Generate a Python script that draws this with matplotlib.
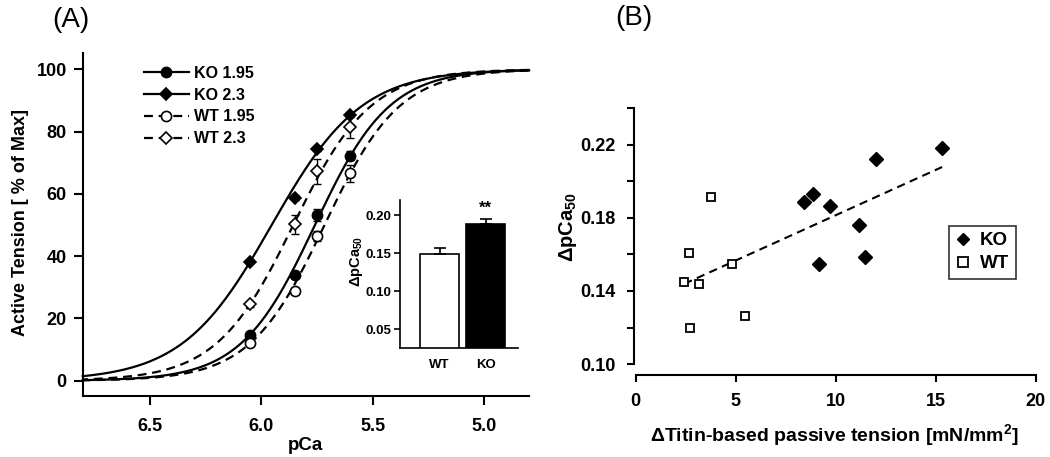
import numpy as np
import matplotlib
matplotlib.use("Agg")
import matplotlib.pyplot as plt
from matplotlib.lines import Line2D

plt.rcParams['font.family'] = ['Liberation Sans', 'DejaVu Sans']
plt.rcParams['font.weight'] = 'bold'
plt.rcParams['mathtext.fontset'] = 'custom'
plt.rcParams['mathtext.rm'] = 'Liberation Sans:bold'
plt.rcParams['mathtext.it'] = 'Liberation Sans:bold'
plt.rcParams['mathtext.bf'] = 'Liberation Sans:bold'

# ---------------- Panel A data ----------------
pca_points = [6.05, 5.85, 5.75, 5.60]
ko_195 = [14.8, 33.9, 53.2, 72.2]
ko_23 = [38.2, 58.8, 74.4, 85.3]
wt_195 = [12.0, 28.9, 46.5, 66.6]
wt_23 = [24.5, 50.2, 67.3, 81.4]
ko_195_err = [0.8, 1.0, 2.0, 1.5]
ko_23_err = [0.5, 0.8, 0.8, 0.8]
wt_195_err = [0.5, 1.0, 1.6, 2.8]
wt_23_err = [0.8, 3.0, 4.0, 3.5]
# Hill-fit parameters of the drawn curves (pCa50, Hill coefficient)
pca50 = {'KO 1.95': 5.759, 'KO 2.3': 5.953, 'WT 1.95': 5.716, 'WT 2.3': 5.856}
hill_n = {'KO 1.95': 2.61, 'KO 2.3': 2.16, 'WT 1.95': 2.59, 'WT 2.3': 2.51}
series_labels = ['KO 1.95', 'KO 2.3', 'WT 1.95', 'WT 2.3']
x_ticks_a = [6.5, 6.0, 5.5, 5.0]
y_ticks_a = [0, 20, 40, 60, 80, 100]

# inset
inset_groups = ['WT', 'KO']
inset_values = [0.149, 0.188]
inset_err = [0.008, 0.007]
inset_ticks = [0.05, 0.10, 0.15, 0.20]

# ---------------- Panel B data ----------------
ko_x = [8.43, 8.85, 9.72, 9.15, 11.18, 11.45, 12.02, 15.32]
ko_y = [0.1885, 0.193, 0.1866, 0.1547, 0.1759, 0.1585, 0.2123, 0.218]
wt_x = [3.77, 2.67, 4.83, 2.43, 3.17, 5.48, 2.70]
wt_y = [0.1917, 0.1606, 0.1547, 0.145, 0.1439, 0.1261, 0.1199]
x_ticks_b = [0, 5, 10, 15, 20]
y_major_b = [0.10, 0.14, 0.18, 0.22]
y_minor_b = [0.12, 0.16, 0.20, 0.24]

W, H = 1050, 457
fig = plt.figure(figsize=(W / 100, H / 100), dpi=100)

def fx(px):
    return px / W

def fy(py):
    return 1 - py / H

DASH = (0, (4, 2.6))

# ================= Panel A =================
axA = fig.add_axes([fx(82.7), fy(396), fx(529 - 82.7), (396 - 52.7) / H])
axA.set_xlim(6.8, 4.8)
axA.set_ylim(-4.9, 105.3)

pgrid = np.linspace(4.8, 6.8, 400)
styles = {
    'KO 1.95': dict(ls='-', marker='o', mfc='black', ms=7.3),
    'KO 2.3': dict(ls='-', marker='D', mfc='black', ms=6.2),
    'WT 1.95': dict(ls=DASH, marker='o', mfc='white', ms=7.3),
    'WT 2.3': dict(ls=DASH, marker='D', mfc='white', ms=6.2),
}
vals = {'KO 1.95': ko_195, 'KO 2.3': ko_23, 'WT 1.95': wt_195, 'WT 2.3': wt_23}
errs = {'KO 1.95': ko_195_err, 'KO 2.3': ko_23_err, 'WT 1.95': wt_195_err, 'WT 2.3': wt_23_err}

handles = []
for lab in series_labels:
    st = styles[lab]
    curve = 100.0 / (1.0 + 10 ** (hill_n[lab] * (pgrid - pca50[lab])))
    axA.plot(pgrid, curve, color='black', lw=1.6, ls=st['ls'], zorder=2, clip_on=False)
    axA.errorbar(pca_points, vals[lab], yerr=errs[lab], fmt='none', ecolor='black',
                 elinewidth=1.0, capsize=3, capthick=1.0, zorder=3)
    axA.plot(pca_points, vals[lab], ls='none', marker=st['marker'], ms=st['ms'],
             mfc=st['mfc'], mec='black', mew=1.2, zorder=4)
    handles.append(Line2D([], [], color='black', lw=1.6, ls=st['ls'], marker=st['marker'],
                          ms=st['ms'], mfc=st['mfc'], mec='black', mew=1.2))

axA.set_xticks(x_ticks_a)
axA.set_xticklabels([f"{v:.1f}" for v in x_ticks_a])
axA.set_yticks(y_ticks_a)
for s in ['top', 'right']:
    axA.spines[s].set_visible(False)
for s in ['left', 'bottom']:
    axA.spines[s].set_linewidth(1.5)
axA.tick_params(axis='both', direction='out', length=6.5, width=1.5, labelsize=13)
axA.tick_params(axis='x', pad=9)
axA.tick_params(axis='y', pad=5)

fig.text(fx(20.3), fy(223), 'Active Tension [ % of Max]', rotation=90, ha='center',
         va='center', fontsize=13, fontweight='bold')
fig.text(fx(305), fy(445), 'pCa', ha='center', va='center', fontsize=13.5, fontweight='bold')
fig.text(fx(70.8), fy(20), '(A)', ha='center', va='center', fontsize=20, fontweight='normal')

axA.legend(handles, series_labels, loc='upper left', bbox_to_anchor=(fx(144), fy(66)),
           bbox_transform=fig.transFigure, frameon=False, borderpad=0, borderaxespad=0,
           handlelength=2.8, handletextpad=0.3, labelspacing=0.42,
           prop={'family': 'Liberation Sans', 'weight': 'bold', 'size': 11.5})

# ---- inset ----
axI = fig.add_axes([fx(400), fy(347.7), fx(517.7 - 400), (347.7 - 200) / H])
xpos = np.arange(len(inset_groups))
axI.bar(xpos, inset_values, width=0.84, color=['white', 'black'], edgecolor='black',
        linewidth=1.2, zorder=2)
axI.errorbar(xpos, inset_values, yerr=[[0, 0], inset_err], fmt='none', ecolor='black',
             elinewidth=1.2, capsize=4, capthick=1.2, zorder=3)
axI.set_xlim(-0.86, 1.70)
axI.set_ylim(0.026, 0.22)
axI.set_yticks(inset_ticks)
axI.set_yticklabels([f"{v:.2f}" for v in inset_ticks])
axI.set_xticks(xpos)
axI.set_xticklabels(inset_groups)
for s in ['top', 'right']:
    axI.spines[s].set_visible(False)
for s in ['left', 'bottom']:
    axI.spines[s].set_linewidth(1.2)
axI.tick_params(axis='y', direction='out', length=4, width=1.2, labelsize=9.5, pad=2)
axI.tick_params(axis='x', length=0, labelsize=9.5, pad=8)
axI.text(1, inset_values[1] + inset_err[1] + 0.004, '**', ha='center', va='bottom',
         fontsize=12, fontweight='bold')
fig.text(fx(356.7), fy(261.7), r'$\Delta$pCa$_{50}$', rotation=90, ha='center', va='center',
         fontsize=10.5, fontweight='bold')

# ================= Panel B =================
axB = fig.add_axes([fx(633.5), fy(375), fx(1035.7 - 633.5), (375 - 108.3) / H])
axB.set_xlim(-0.11, 20)
axB.set_ylim(0.094, 0.24)
coef = np.polyfit(np.array(ko_x + wt_x), np.array(ko_y + wt_y), 1)
xl = np.array([min(ko_x + wt_x), max(ko_x + wt_x)])
axB.plot(xl, np.polyval(coef, xl), color='black', lw=1.5, ls=DASH, zorder=2)
axB.plot(ko_x, ko_y, ls='none', marker='D', ms=6.8, mfc='black', mec='black', zorder=3)
axB.plot(wt_x, wt_y, ls='none', marker='s', ms=5.4, mfc='white', mec='black', mew=1.3,
         zorder=3)
axB.set_xticks(x_ticks_b)
axB.set_yticks(y_major_b)
axB.set_yticklabels([f"{v:.2f}" for v in y_major_b])
axB.set_yticks(y_minor_b, minor=True)
for s in ['top', 'right']:
    axB.spines[s].set_visible(False)
for s in ['left', 'bottom']:
    axB.spines[s].set_linewidth(1.5)
axB.spines['left'].set_bounds(0.10, 0.24)
axB.spines['bottom'].set_bounds(0, 20)
axB.tick_params(axis='both', which='both', direction='out', length=5, width=1.5, labelsize=13)
axB.tick_params(axis='x', pad=8)
axB.tick_params(axis='y', which='both', pad=8)
fig.text(fx(834), fy(435), r'$\Delta$Titin-based passive tension [mN/mm$^2$]', ha='center',
         va='center', fontsize=14, fontweight='bold')
fig.text(fx(568), fy(227), r'$\Delta$pCa$_{50}$', rotation=90, ha='center', va='center',
         fontsize=14.5, fontweight='bold')
fig.text(fx(634), fy(18), '(B)', ha='center', va='center', fontsize=20, fontweight='normal')

legB_handles = [
    Line2D([], [], ls='none', marker='D', ms=6.4, mfc='black', mec='black'),
    Line2D([], [], ls='none', marker='s', ms=6.5, mfc='white', mec='black', mew=1.3),
]
legB = axB.legend(legB_handles, ['KO', 'WT'], loc='upper left',
                  bbox_to_anchor=(fx(949.3), fy(225.7)),
                  bbox_transform=fig.transFigure, frameon=True, fancybox=False,
                  borderpad=0.35, borderaxespad=0, handlelength=0.8, handletextpad=0.5,
                  labelspacing=0.3, numpoints=1,
                  prop={'family': 'Liberation Sans', 'weight': 'bold', 'size': 13.5})
legB.get_frame().set_edgecolor('black')
legB.get_frame().set_linewidth(1.2)

fig.savefig('out.png', dpi=100)
